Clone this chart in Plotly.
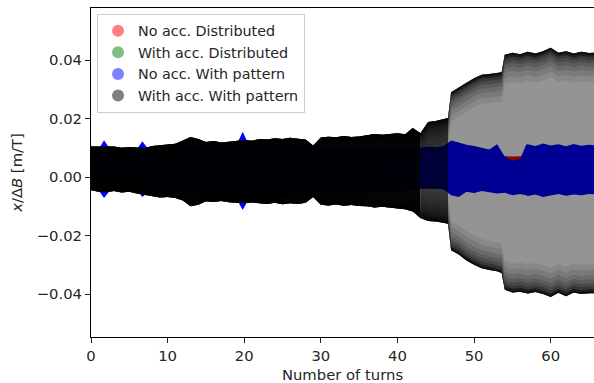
import plotly.graph_objects as go

# ---------------- data (envelopes) ----------------
# With acc. With pattern (black)
black_turns = [0, 1, 2, 3, 4, 5, 6, 7, 8, 9, 10, 11, 12, 13, 14, 15, 16, 17, 18, 19,
               20, 21, 22, 23, 24, 25, 26, 27, 28, 29, 30, 31, 32, 33, 34, 35, 36, 37, 38, 39,
               40, 41, 42, 43, 44, 45, 46, 46.6, 47, 48, 49, 50, 51, 52, 53, 53.6,
               54, 55, 56, 57, 58, 59, 60, 61, 62, 63, 64, 65, 66]
black_upper = [0.0104, 0.0104, 0.0102, 0.0104, 0.0100, 0.0103, 0.0101, 0.0099, 0.0106, 0.0109,
               0.0112, 0.0114, 0.0125, 0.0137, 0.0130, 0.0120, 0.0123, 0.0118, 0.0121, 0.0125,
               0.0127, 0.0124, 0.0130, 0.0128, 0.0133, 0.0130, 0.0134, 0.0131, 0.0128, 0.0108,
               0.0135, 0.0138, 0.0136, 0.0140, 0.0137, 0.0139, 0.0142, 0.0147, 0.0145, 0.0148,
               0.0150, 0.0146, 0.0168, 0.0150, 0.0188, 0.0192, 0.0198, 0.0202, 0.0290, 0.0305,
               0.0322, 0.0338, 0.0350, 0.0352, 0.0355, 0.0358,
               0.0418, 0.0425, 0.0420, 0.0428, 0.0422, 0.0430, 0.0442, 0.0425, 0.0430, 0.0422,
               0.0428, 0.0424, 0.0426]
black_lower = [-0.0045, -0.0050, -0.0052, -0.0048, -0.0053, -0.0050, -0.0056, -0.0060, -0.0066, -0.0070,
               -0.0068, -0.0072, -0.0080, -0.0100, -0.0095, -0.0083, -0.0085, -0.0082, -0.0086, -0.0089,
               -0.0090, -0.0087, -0.0090, -0.0092, -0.0088, -0.0093, -0.0090, -0.0092, -0.0088, -0.0068,
               -0.0095, -0.0097, -0.0094, -0.0098, -0.0096, -0.0099, -0.0100, -0.0104, -0.0102, -0.0106,
               -0.0108, -0.0110, -0.0118, -0.0140, -0.0150, -0.0152, -0.0156, -0.0160, -0.0250, -0.0265,
               -0.0285, -0.0300, -0.0312, -0.0318, -0.0322, -0.0328,
               -0.0385, -0.0395, -0.0392, -0.0398, -0.0393, -0.0400, -0.0410, -0.0396, -0.0408, -0.0395,
               -0.0400, -0.0397, -0.0398]

# No acc. With pattern (blue)
blue_turns = [0, 1, 1.7, 2.5, 6, 6.7, 7.5, 12, 19, 19.8, 20.6, 30, 40, 43, 44, 45, 46, 47, 48, 49,
              50, 51, 52, 53, 54, 55, 56, 56.8, 57, 58, 59, 60, 61, 62, 63, 64, 65, 66]
blue_upper = [0.0090, 0.0095, 0.0126, 0.0095, 0.0095, 0.0122, 0.0095, 0.0100, 0.0110, 0.0155, 0.0110,
              0.0100, 0.0100, 0.0100, 0.0104, 0.0102, 0.0106, 0.0125, 0.0118, 0.0110,
              0.0106, 0.0100, 0.0094, 0.0112, 0.0070, 0.0056, 0.0062, 0.0110, 0.0112, 0.0106,
              0.0115, 0.0108, 0.0112, 0.0105, 0.0113, 0.0107, 0.0110, 0.0108]
blue_lower = [-0.0040, -0.0045, -0.0072, -0.0045, -0.0045, -0.0068, -0.0050, -0.0050, -0.0075, -0.0113, -0.0075,
              -0.0050, -0.0050, -0.0040, -0.0038, -0.0040, -0.0042, -0.0062, -0.0068, -0.0050,
              -0.0055, -0.0048, -0.0052, -0.0056, -0.0054, -0.0062, -0.0058, -0.0062, -0.0065, -0.0060,
              -0.0068, -0.0062, -0.0058, -0.0064, -0.0060, -0.0062, -0.0058, -0.0060]

# No acc. Distributed (red)
red_turns = [0, 20, 40, 41, 42, 43, 50, 54, 55, 56, 57, 66]
red_upper = [0.0080, 0.0085, 0.0080, 0.0070, 0.0072, 0.0075, 0.0080, 0.0072, 0.0070, 0.0071, 0.0075, 0.0080]
red_lower = [-0.0035, -0.0040, -0.0040, -0.0038, -0.0040, -0.0040, -0.0040, -0.0040, -0.0040, -0.0040, -0.0040, -0.0040]

# With acc. Distributed (green)
green_turns = [0, 0.4, 1, 20, 40, 66]
green_upper = [0.0110, 0.0080, 0.0060, 0.0050, 0.0050, 0.0045]
green_lower = [-0.0035, -0.0030, -0.0030, -0.0030, -0.0030, -0.0030]

series_names = ["No acc. Distributed", "With acc. Distributed",
                "No acc. With pattern", "With acc. With pattern"]
x_ticks = [0, 10, 20, 30, 40, 50, 60]
y_ticks = [-0.04, -0.02, 0.0, 0.02, 0.04]

# ---------------- helpers ----------------
def band(x, top, bottom):
    return list(x) + list(x)[::-1], list(top) + list(bottom)[::-1]

def fill_trace(x, top, bottom, color):
    xs, ys = band(x, top, bottom)
    return go.Scatter(x=xs, y=ys, mode="lines", fill="toself", fillcolor=color,
                      line=dict(width=0, color=color), hoverinfo="skip", showlegend=False)

def subset(x, top, bottom, lo, hi):
    idx = [i for i, t in enumerate(x) if lo <= t <= hi]
    return [x[i] for i in idx], [top[i] for i in idx], [bottom[i] for i in idx]

fig = go.Figure()

fig.add_trace(fill_trace(red_turns, red_upper, red_lower, "rgb(255,0,0)"))
fig.add_trace(fill_trace(green_turns, green_upper, green_lower, "rgb(0,128,0)"))
fig.add_trace(fill_trace(blue_turns, blue_upper, blue_lower, "rgb(0,0,255)"))

# black body: dense (opaque) early, translucent later
segments = [(0, 43, "rgba(0,0,0,0.97)"), (43, 46.6, "rgba(0,0,0,0.78)"), (46.6, 66, "rgba(0,0,0,0.42)")]
for lo, hi, col in segments:
    x, t, b = subset(black_turns, black_upper, black_lower, lo, hi)
    fig.add_trace(fill_trace(x, t, b, col))

# darker edges of the black envelope (gradual)
edge_layers = [(0.0100, 0.08), (0.0080, 0.10), (0.0062, 0.12), (0.0047, 0.14),
               (0.0034, 0.18), (0.0023, 0.25), (0.0013, 0.45), (0.0006, 0.6)]
for d, a in edge_layers:
    inner_top = [max(u - d, l) for u, l in zip(black_upper, black_lower)]
    inner_bot = [min(l + d, u) for u, l in zip(black_upper, black_lower)]
    fig.add_trace(fill_trace(black_turns, black_upper, inner_top, f"rgba(0,0,0,{a})"))
    fig.add_trace(fill_trace(black_turns, inner_bot, black_lower, f"rgba(0,0,0,{a})"))

# legend entries
legend_colors = ["rgba(255,0,0,0.5)", "rgba(0,128,0,0.5)", "rgba(0,0,255,0.5)", "rgba(0,0,0,0.5)"]
for i, (name, col) in enumerate(zip(series_names, legend_colors)):
    fig.add_trace(go.Scatter(x=[None], y=[None], mode="markers", name=name,
                             legendgroup=f"g{i}",
                             marker=dict(color=col, size=8, symbol="circle")))

FS = 14.8
axis_common = dict(showline=True, linecolor="black", linewidth=1, ticks="outside",
                   ticklen=5, tickwidth=1, tickcolor="#222", showgrid=False, zeroline=False,
                   tickfont=dict(family="DejaVu Sans", size=FS, color="#262626"))

fig.update_layout(
    width=594, height=383,
    margin=dict(l=91, r=0, t=8, b=46),
    plot_bgcolor="white", paper_bgcolor="white",
    font=dict(family="DejaVu Sans", size=FS, color="#262626"),
    xaxis=dict(range=[0, 65.65], tickvals=x_ticks, mirror=True,
               title=dict(text="Number of turns", standoff=6,
                          font=dict(family="DejaVu Sans", size=FS, color="#262626")),
               **axis_common),
    yaxis=dict(range=[-0.0547, 0.0578], tickvals=y_ticks, tickformat=".2f",
               title=dict(text="<i>x</i>/Δ<i>B</i> [m/T]", standoff=10,
                          font=dict(family="DejaVu Sans", size=FS, color="#262626")),
               **axis_common),
    legend=dict(x=0.012, y=0.982, xanchor="left", yanchor="top",
                bgcolor="rgba(255,255,255,0.9)", bordercolor="#cccccc", borderwidth=1,
                font=dict(family="DejaVu Sans", size=14.3, color="#262626"),
                tracegroupgap=0, itemsizing="constant"),
    showlegend=True,
)

fig.write_html("out.html")
